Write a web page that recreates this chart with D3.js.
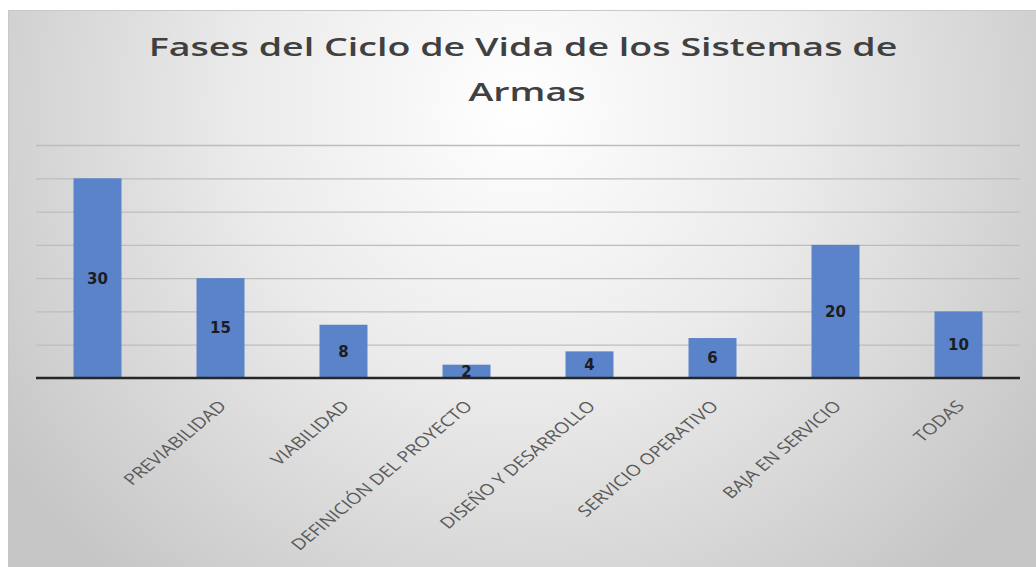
<!DOCTYPE html>
<html>
<head>
<meta charset="utf-8">
<script src="https://cdn.jsdelivr.net/npm/d3@7"></script>
<style>
  html, body { margin: 0; padding: 0; background: #ffffff; }
  svg { display: block; }
</style>
</head>
<body>
<svg id="chart" width="1036" height="567"></svg>
<script>
// ---- data ----
const titleLines = ["Fases del Ciclo de Vida de los Sistemas de", "Armas"];
const categories = ["", "PREVIABILIDAD", "VIABILIDAD", "DEFINICIÓN DEL PROYECTO", "DISEÑO Y DESARROLLO", "SERVICIO OPERATIVO", "BAJA EN SERVICIO", "TODAS"];
const values = [30, 15, 8, 2, 4, 6, 20, 10];
const gridTicks = [5, 10, 15, 20, 25, 30, 35];

const svg = d3.select("#chart");

// background gradient
const defs = svg.append("defs");
const rg = defs.append("radialGradient")
  .attr("id", "bg")
  .attr("gradientUnits", "userSpaceOnUse")
  .attr("cx", 520).attr("cy", 110).attr("r", 620)
  .attr("fx", 520).attr("fy", 110);
rg.append("stop").attr("offset", "0%").attr("stop-color", "#ffffff");
rg.append("stop").attr("offset", "45%").attr("stop-color", "#ebebeb");
rg.append("stop").attr("offset", "100%").attr("stop-color", "#c6c6c6");

svg.append("rect")
  .attr("x", 8.5).attr("y", 10.5).attr("width", 1040).attr("height", 560)
  .attr("fill", "url(#bg)")
  .attr("stroke", "#c8c8c8").attr("stroke-width", 1);

const plot = { left: 36, right: 1020, top: 145, bottom: 378 };

const x = d3.scaleBand()
  .domain(d3.range(categories.length))
  .range([plot.left, plot.right])
  .paddingInner(0.61)
  .paddingOuter(0.305);

const y = d3.scaleLinear()
  .domain([0, 35])
  .range([plot.bottom, plot.top]);

// gridlines via axis
const gridAxis = d3.axisLeft(y)
  .tickValues(gridTicks)
  .tickSize(-(plot.right - plot.left))
  .tickFormat("");
const gg = svg.append("g")
  .attr("transform", `translate(${plot.left},0)`)
  .call(gridAxis);
gg.select(".domain").remove();
gg.selectAll(".tick line").attr("stroke", "#bdbdbd").attr("stroke-width", 1.3);

// title (glyphs stretched horizontally as in the reference)
const titleCenter = 523;
const titleLine1Width = 749;
const tg = svg.append("g");
const titleTexts = tg.selectAll("text")
  .data(titleLines)
  .join("text")
  .attr("x", 0)
  .attr("y", 0)
  .attr("text-anchor", "middle")
  .attr("font-family", "'Open Sans', sans-serif")
  .attr("font-weight", 600)
  .attr("font-size", 26)
  .attr("fill", "#404040")
  .text(d => d);
const natural = titleTexts.nodes()[0].getComputedTextLength();
const sx = titleLine1Width / natural;
titleTexts.attr("transform", (d, i) => `translate(${titleCenter + i * 4},${56 + i * 45}) scale(${sx},1)`);

// bars
svg.append("g").selectAll("rect")
  .data(values)
  .join("rect")
  .attr("x", (d, i) => x(i))
  .attr("y", d => y(d))
  .attr("width", x.bandwidth())
  .attr("height", d => y(0) - y(d))
  .attr("fill", "#5a83c9");

// value labels
svg.append("g").selectAll("text")
  .data(values)
  .join("text")
  .attr("x", (d, i) => x(i) + x.bandwidth() / 2)
  .attr("y", d => (y(d) + y(0)) / 2)
  .attr("dy", "0.36em")
  .attr("text-anchor", "middle")
  .attr("font-family", "'DejaVu Sans', Verdana, sans-serif")
  .attr("font-weight", "bold")
  .attr("font-size", 15)
  .attr("fill", "#1c1c24")
  .text(d => d);

// x axis (baseline + rotated labels)
const xAxis = d3.axisBottom(x)
  .tickSize(0)
  .tickFormat(i => categories[i]);
const xg = svg.append("g")
  .attr("transform", `translate(0,${plot.bottom})`)
  .call(xAxis);
xg.select(".domain")
  .attr("stroke", "#262626")
  .attr("stroke-width", 2.6)
  .attr("d", `M${plot.left},0H${plot.right}`);
xg.selectAll(".tick text")
  .attr("font-family", "'Open Sans', sans-serif")
  .attr("font-size", 15.5)
  .attr("fill", "#5a5a5a")
  .attr("text-anchor", "end")
  .attr("x", 0).attr("y", 0).attr("dy", 0)
  .attr("transform", "translate(7,29) scale(1.25,1) rotate(-46)");
</script>
</body>
</html>
